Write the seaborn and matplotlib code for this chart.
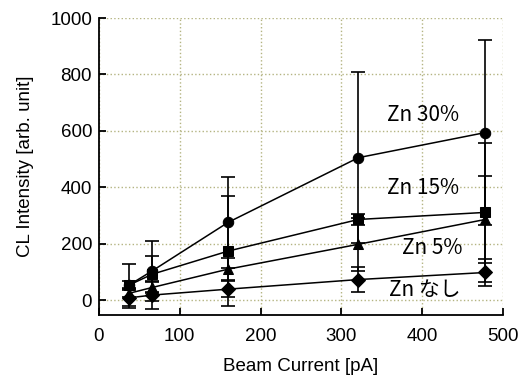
import numpy as np
import pandas as pd
import seaborn as sns
import matplotlib.pyplot as plt

# beam current [pA]
beam_current = [37, 66, 160, 321, 478]

# CL intensity [arb. unit] and error bars, per Zn content
series_names = ["Zn 30%", "Zn 15%", "Zn 5%", "Zn なし"]
zn30 = [53, 104, 276, 505, 594]
zn30_err = [75, 107, 162, 303, 327]
zn15 = [53, 92, 174, 286, 311]
zn15_err = [15, 64, 195, 20, 246]
zn5 = [24, 45, 110, 198, 286]
zn5_err = [12, 20, 40, 94, 154]
zn0 = [8, 18, 39, 73, 98]
zn0_err = [35, 50, 28, 45, 47]

label_x = [401, 401, 413, 403]
label_y = [657, 398, 185, 35]

sns.set_style("ticks")
plt.rcParams['font.family'] = ['Liberation Sans', 'DejaVu Sans']
plt.rcParams['text.color'] = 'black'
plt.rcParams['axes.labelcolor'] = 'black'
plt.rcParams['xtick.color'] = 'black'
plt.rcParams['ytick.color'] = 'black'

values = [zn30, zn15, zn5, zn0]
errors = [zn30_err, zn15_err, zn5_err, zn0_err]
df = pd.DataFrame({
    "Beam": beam_current * 4,
    "CL": sum(values, []),
    "err": sum(errors, []),
    "series": [n for n in series_names for _ in beam_current],
})

fig = plt.figure(figsize=(5.21, 3.76), dpi=100)
ax = fig.add_axes([0.190, 0.162, 0.7755, 0.790])

markers = {"Zn 30%": "o", "Zn 15%": "s", "Zn 5%": "^", "Zn なし": "D"}

# error bars first so markers sit on top
for name in series_names:
    sub = df[df.series == name]
    ax.errorbar(sub.Beam, sub.CL, yerr=sub.err, fmt="none", ecolor="black",
                elinewidth=1.2, capsize=5, capthick=1.2, zorder=2)

sns.lineplot(data=df, x="Beam", y="CL", hue="series", style="series",
             markers=markers, dashes=False, palette=["black"] * 4,
             markersize=7.5, markeredgecolor="black", linewidth=1.1,
             legend=False, ax=ax, zorder=3)

for name, lx, ly in zip(series_names, label_x, label_y):
    ax.text(lx, ly, name, ha="center", va="center", fontsize=15,
            family=["Noto Sans CJK JP", "DejaVu Sans"])

ax.set_xlim(0, 500)
ax.set_ylim(-53, 1000)
ax.set_xticks(range(0, 501, 100))
ax.set_yticks(range(0, 1001, 200))
ax.grid(True, linestyle=":", color="#b4b482", linewidth=1.0)
ax.set_axisbelow(True)
for s in ["top", "right"]:
    ax.spines[s].set_visible(False)
for s in ["left", "bottom"]:
    ax.spines[s].set_linewidth(1.3)
    ax.spines[s].set_color("black")
ax.tick_params(direction="in", length=5, width=1.3, labelsize=13.5)
ax.tick_params(axis="y", pad=5)
ax.tick_params(axis="x", pad=9)
ax.set_xlabel("Beam Current [pA]", fontsize=13.5, labelpad=10)
ax.set_ylabel("CL Intensity [arb. unit]", fontsize=13.5, labelpad=12)

fig.savefig("out.png", dpi=100)
